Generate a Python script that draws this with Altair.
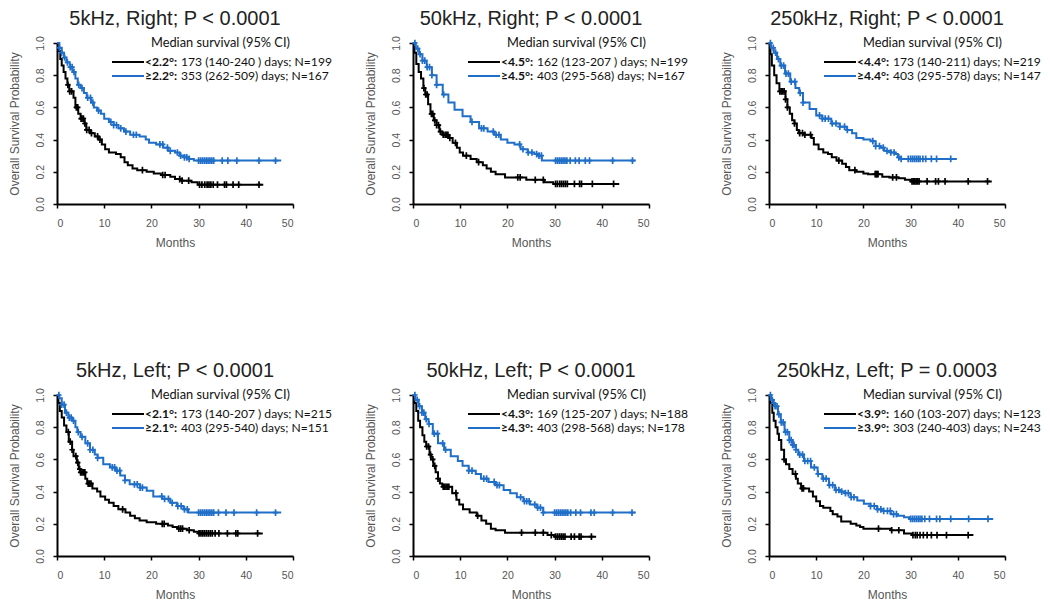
import altair as alt
import pandas as pd
import numpy as np

# ---------------- data ----------------
month_ticks = [0, 10, 20, 30, 40, 50]
prob_ticks = [0.0, 0.2, 0.4, 0.6, 0.8, 1.0]

titles = ["5kHz, Right; P < 0.0001", "50kHz, Right; P < 0.0001", "250kHz, Right; P < 0.0001",
          "5kHz, Left; P < 0.0001", "50kHz, Left; P < 0.0001", "250kHz, Left; P = 0.0003"]
lo_labels = ["<2.2°:", "<4.5°:", "<4.4°:", "<2.1°:", "<4.3°:", "<3.9°:"]
hi_labels = ["≥2.2°:", "≥4.5°:", "≥4.4°:", "≥2.1°:", "≥4.3°:", "≥3.9°:"]
lo_stats = ["173 (140-240 ) days; N=199", "162 (123-207 ) days; N=199", "173 (140-211) days; N=219",
            "173 (140-207 ) days; N=215", "169 (125-207 ) days; N=188", "160 (103-207) days; N=123"]
hi_stats = ["353 (262-509) days; N=167", "403 (295-568) days; N=167", "403 (295-578) days; N=147",
            "403 (295-540) days; N=151", "403 (298-568) days; N=178", "303 (240-403) days; N=243"]
legend_head = "Median survival  (95% CI)"

# Panel 1: 5kHz Right
p1_lo_t = [0, 0.3, 0.7, 1.0, 1.4, 1.8, 2.2, 2.6, 3.5, 3.9, 4.5, 5.0, 5.8, 6.2, 7.0, 8.0, 8.8, 9.5, 10.2, 11.0, 12.5, 13.5, 14.3, 15.0, 16.0, 17.0, 19.0, 20.5, 22.0, 24.0, 25.0, 26.5, 28.5, 29.8, 43.7]
p1_lo_s = [1.0, 0.95, 0.90, 0.86, 0.82, 0.78, 0.74, 0.70, 0.66, 0.60, 0.56, 0.53, 0.50, 0.46, 0.44, 0.42, 0.40, 0.37, 0.34, 0.32, 0.31, 0.29, 0.26, 0.24, 0.22, 0.21, 0.20, 0.19, 0.18, 0.17, 0.155, 0.145, 0.135, 0.12, 0.12]
p1_lo_c = [2.3, 2.7, 3.1, 4.1, 4.4, 5.1, 5.3, 5.6, 5.9, 6.3, 6.8, 7.3, 8.6, 9.1, 18.1, 22.4, 22.9, 26.0, 26.5, 27.9, 30.2, 30.7, 31.3, 31.8, 32.2, 32.6, 33.1, 34.0, 35.5, 35.9, 37.3, 38.5, 42.8]
p1_hi_t = [0, 0.5, 1.0, 1.5, 2.0, 2.7, 3.3, 3.9, 4.4, 5.0, 5.7, 6.3, 7.2, 7.8, 8.5, 9.3, 10.0, 11.0, 12.0, 13.0, 14.2, 15.5, 17.5, 18.8, 19.5, 21.0, 22.5, 23.5, 25.0, 26.0, 27.0, 28.0, 29.0, 47.5]
p1_hi_s = [1.0, 0.97, 0.94, 0.91, 0.88, 0.85, 0.82, 0.78, 0.74, 0.72, 0.69, 0.66, 0.63, 0.60, 0.58, 0.56, 0.53, 0.51, 0.49, 0.47, 0.45, 0.43, 0.42, 0.40, 0.38, 0.37, 0.35, 0.33, 0.32, 0.30, 0.29, 0.28, 0.27, 0.27]
p1_hi_c = [0.5, 1.0, 1.6, 2.2, 2.8, 3.2, 3.6, 4.6, 5.3, 6.5, 7.1, 7.6, 8.8, 11.4, 12.0, 12.6, 13.5, 14.6, 16.2, 16.8, 21.8, 22.4, 23.4, 24.0, 25.5, 26.2, 27.0, 27.5, 28.0, 30.0, 30.4, 30.8, 31.2, 31.6, 32.0, 32.4, 32.8, 33.2, 35.0, 36.2, 38.1, 42.8, 46.3]

# Panel 2: 50kHz Right
p2_lo_t = [0, 0.3, 0.7, 1.2, 1.7, 2.2, 2.6, 3.2, 3.7, 4.4, 5.0, 5.6, 6.2, 7.5, 8.4, 9.3, 9.9, 10.6, 12.2, 13.5, 14.8, 15.6, 16.5, 17.5, 19.5, 24.0, 27.8, 29.7, 43.7]
p2_lo_s = [1.0, 0.94, 0.87, 0.82, 0.78, 0.72, 0.68, 0.62, 0.56, 0.52, 0.49, 0.45, 0.43, 0.41, 0.38, 0.35, 0.32, 0.30, 0.28, 0.26, 0.24, 0.22, 0.20, 0.185, 0.165, 0.15, 0.135, 0.125, 0.125]
p2_lo_c = [2.3, 2.7, 3.0, 3.9, 4.2, 4.6, 5.0, 5.4, 5.8, 6.4, 6.8, 7.1, 7.4, 7.8, 9.0, 11.3, 13.9, 22.2, 22.7, 25.9, 27.6, 30.2, 30.6, 31.1, 31.5, 31.9, 32.3, 32.7, 34.2, 35.3, 35.7, 38.0, 42.5]
p2_hi_t = [0, 0.6, 1.3, 2.0, 2.9, 4.0, 5.0, 6.3, 7.5, 8.8, 10.5, 12.2, 14.0, 15.8, 17.2, 18.6, 20.0, 21.5, 22.8, 24.3, 25.7, 26.6, 27.3, 47.2]
p2_hi_s = [1.0, 0.965, 0.93, 0.89, 0.85, 0.80, 0.74, 0.68, 0.63, 0.585, 0.545, 0.51, 0.47, 0.45, 0.43, 0.40, 0.38, 0.37, 0.34, 0.32, 0.31, 0.30, 0.27, 0.27]
p2_hi_c = [0.4, 1.0, 1.5, 2.0, 2.5, 3.0, 3.5, 4.0, 5.0, 6.5, 12.5, 14.5, 15.0, 17.0, 17.6, 18.2, 22.6, 23.3, 24.4, 25.2, 26.2, 26.7, 27.2, 30.2, 30.6, 31.0, 31.4, 31.8, 32.2, 32.6, 33.3, 34.4, 35.2, 36.5, 37.4, 42.3, 46.5]

# Panel 3: 250kHz Right
p3_lo_t = [0, 0.3, 0.6, 1.1, 1.6, 2.2, 3.5, 3.9, 4.4, 4.9, 5.4, 5.9, 6.3, 7.5, 9.0, 9.5, 10.5, 11.5, 12.5, 13.3, 14.3, 15.5, 16.3, 17.0, 18.5, 20.0, 21.0, 24.0, 25.5, 27.5, 28.8, 30.0, 47.2]
p3_lo_s = [1.0, 0.93, 0.86, 0.80, 0.75, 0.70, 0.65, 0.60, 0.56, 0.52, 0.50, 0.46, 0.44, 0.43, 0.41, 0.37, 0.34, 0.32, 0.31, 0.29, 0.27, 0.25, 0.23, 0.21, 0.20, 0.19, 0.185, 0.17, 0.165, 0.16, 0.15, 0.14, 0.14]
p3_lo_c = [2.3, 2.6, 2.9, 3.2, 3.5, 3.9, 5.4, 6.5, 7.1, 7.6, 8.8, 14.8, 18.2, 22.5, 22.7, 22.9, 23.1, 26.2, 27.0, 30.3, 30.6, 30.9, 31.2, 31.5, 31.8, 33.5, 35.3, 35.9, 37.3, 42.2, 46.3]
p3_hi_t = [0, 0.4, 1.0, 1.7, 2.4, 3.4, 4.5, 5.6, 6.4, 7.2, 8.6, 10.0, 11.3, 13.2, 15.0, 16.5, 17.6, 18.5, 20.0, 21.5, 22.6, 23.6, 24.4, 25.8, 26.8, 27.3, 28.0, 39.8]
p3_hi_s = [1.0, 0.97, 0.94, 0.90, 0.86, 0.81, 0.76, 0.72, 0.69, 0.63, 0.59, 0.55, 0.53, 0.50, 0.48, 0.46, 0.44, 0.41, 0.40, 0.39, 0.36, 0.35, 0.33, 0.32, 0.31, 0.29, 0.28, 0.28]
p3_hi_c = [0.3, 0.9, 1.4, 2.0, 2.6, 3.1, 3.6, 4.1, 4.7, 5.5, 6.6, 7.2, 10.7, 11.3, 11.9, 12.6, 13.4, 14.2, 15.0, 16.0, 16.6, 22.0, 22.6, 23.4, 24.2, 25.0, 25.8, 26.5, 27.5, 28.0, 29.5, 30.0, 30.4, 30.8, 31.2, 31.6, 32.0, 32.6, 33.2, 34.4, 35.5, 38.5]

# Panel 4: 5kHz Left
p4_lo_t = [0, 0.3, 0.6, 1.0, 1.5, 2.0, 2.5, 3.2, 3.5, 4.2, 4.6, 5.0, 6.0, 6.4, 7.5, 8.5, 9.2, 10.2, 11.0, 12.0, 13.0, 14.5, 15.5, 16.5, 17.5, 19.0, 21.0, 23.5, 24.5, 25.5, 27.5, 29.0, 30.0, 43.6]
p4_lo_s = [1.0, 0.95, 0.90, 0.86, 0.81, 0.77, 0.71, 0.66, 0.62, 0.58, 0.54, 0.52, 0.48, 0.45, 0.42, 0.40, 0.37, 0.35, 0.33, 0.31, 0.29, 0.27, 0.25, 0.235, 0.22, 0.21, 0.20, 0.19, 0.18, 0.17, 0.16, 0.15, 0.14, 0.14]
p4_lo_c = [2.4, 2.8, 3.2, 4.0, 4.4, 4.8, 5.0, 5.3, 5.6, 5.9, 6.6, 6.9, 7.2, 13.9, 22.3, 22.7, 25.8, 26.2, 26.6, 28.0, 30.1, 30.5, 30.9, 31.3, 31.7, 32.1, 32.5, 32.9, 33.5, 34.3, 36.1, 37.9, 38.3, 42.5]
p4_hi_t = [0, 0.5, 1.0, 1.7, 2.4, 3.2, 3.9, 4.3, 5.0, 6.0, 7.0, 8.0, 8.6, 9.8, 11.2, 12.4, 13.4, 14.4, 15.4, 17.6, 19.0, 20.4, 22.3, 24.0, 25.4, 26.8, 27.8, 47.5]
p4_hi_s = [1.0, 0.98, 0.94, 0.89, 0.86, 0.84, 0.80, 0.77, 0.74, 0.70, 0.66, 0.63, 0.61, 0.57, 0.55, 0.53, 0.50, 0.47, 0.445, 0.425, 0.405, 0.37, 0.355, 0.33, 0.31, 0.29, 0.27, 0.27]
p4_hi_c = [0.4, 1.0, 1.5, 2.0, 2.6, 3.0, 3.5, 4.5, 5.3, 6.5, 7.0, 7.6, 8.6, 11.7, 12.2, 12.7, 13.3, 14.4, 16.4, 17.0, 17.6, 18.1, 22.2, 22.8, 23.6, 24.4, 25.6, 26.3, 27.0, 27.6, 30.0, 30.4, 30.8, 31.2, 31.6, 32.0, 32.4, 32.8, 33.2, 34.2, 35.8, 37.5, 42.3, 46.3]

# Panel 5: 50kHz Left
p5_lo_t = [0, 0.3, 0.7, 1.1, 1.5, 2.0, 2.4, 2.8, 3.5, 3.8, 4.3, 4.8, 5.3, 5.7, 6.2, 8.3, 9.2, 9.8, 10.6, 12.0, 13.5, 14.5, 15.5, 16.5, 17.5, 19.5, 28.5, 30.0, 38.8]
p5_lo_s = [1.0, 0.95, 0.90, 0.84, 0.80, 0.75, 0.71, 0.68, 0.63, 0.60, 0.56, 0.52, 0.48, 0.45, 0.43, 0.39, 0.35, 0.32, 0.29, 0.27, 0.25, 0.22, 0.20, 0.17, 0.16, 0.145, 0.13, 0.12, 0.12]
p5_lo_c = [2.9, 3.3, 3.7, 4.2, 4.6, 5.3, 6.4, 6.7, 7.0, 7.3, 7.6, 9.1, 13.7, 23.0, 25.9, 27.6, 29.3, 30.2, 30.6, 31.0, 31.4, 31.8, 32.2, 33.5, 34.2, 35.2, 35.6, 37.8]
p5_hi_t = [0, 0.5, 1.2, 1.9, 2.6, 3.3, 4.2, 5.3, 6.6, 8.0, 9.5, 10.5, 11.8, 13.3, 14.4, 16.0, 17.4, 19.2, 20.6, 22.0, 23.4, 24.8, 26.3, 27.6, 47.2]
p5_hi_s = [1.0, 0.97, 0.93, 0.89, 0.85, 0.82, 0.76, 0.70, 0.66, 0.62, 0.59, 0.56, 0.53, 0.51, 0.48, 0.46, 0.44, 0.41, 0.39, 0.365, 0.34, 0.32, 0.30, 0.27, 0.27]
p5_hi_c = [0.4, 0.9, 1.4, 1.9, 2.3, 2.8, 3.4, 4.5, 5.2, 6.3, 6.9, 11.8, 12.5, 15.0, 15.6, 17.2, 17.8, 18.3, 22.8, 23.6, 24.1, 24.6, 25.8, 26.4, 27.0, 27.6, 30.0, 30.4, 30.8, 31.2, 31.6, 32.0, 32.4, 32.8, 33.4, 34.5, 35.5, 37.7, 38.4, 42.3, 46.4]

# Panel 6: 250kHz Left
p6_lo_t = [0, 0.3, 0.7, 1.0, 1.4, 1.8, 2.1, 2.6, 3.2, 3.6, 4.3, 5.0, 5.7, 6.1, 6.8, 8.5, 9.3, 10.0, 10.8, 11.5, 13.0, 13.5, 14.5, 15.3, 17.3, 18.5, 19.3, 20.0, 25.8, 28.6, 30.3, 43.3]
p6_lo_s = [1.0, 0.95, 0.89, 0.84, 0.80, 0.76, 0.72, 0.66, 0.60, 0.57, 0.54, 0.51, 0.48, 0.45, 0.42, 0.40, 0.37, 0.34, 0.31, 0.30, 0.28, 0.26, 0.245, 0.215, 0.20, 0.19, 0.18, 0.17, 0.16, 0.14, 0.13, 0.13]
p6_lo_c = [3.2, 5.6, 7.0, 7.3, 23.2, 26.0, 27.5, 30.5, 31.0, 31.4, 32.0, 32.7, 33.5, 34.4, 35.6, 37.6, 42.2]
p6_hi_t = [0, 0.4, 0.9, 1.3, 1.9, 2.5, 3.3, 4.3, 5.0, 5.7, 6.2, 7.4, 8.9, 10.3, 11.3, 12.7, 14.0, 15.0, 16.0, 17.3, 18.7, 20.1, 21.5, 22.9, 24.2, 25.8, 27.2, 28.6, 29.7, 47.5]
p6_hi_s = [1.0, 0.97, 0.95, 0.93, 0.88, 0.83, 0.77, 0.72, 0.69, 0.66, 0.63, 0.59, 0.55, 0.51, 0.48, 0.44, 0.41, 0.40, 0.39, 0.365, 0.345, 0.325, 0.31, 0.29, 0.28, 0.26, 0.25, 0.24, 0.23, 0.23]
p6_hi_c = [0.3, 0.7, 1.0, 1.3, 1.7, 2.1, 2.6, 3.0, 3.5, 3.9, 4.3, 4.7, 5.0, 5.3, 5.7, 6.5, 7.1, 7.6, 8.2, 8.8, 9.6, 10.4, 11.5, 12.1, 12.8, 13.5, 14.2, 14.8, 15.4, 16.2, 16.8, 17.4, 18.0, 21.5, 22.3, 23.0, 23.7, 24.3, 25.1, 25.7, 26.4, 27.0, 30.0, 30.4, 30.8, 31.2, 31.6, 32.0, 32.4, 33.0, 34.0, 35.5, 36.2, 38.5, 42.3, 46.4]

curves = [
    (p1_lo_t, p1_lo_s, p1_lo_c, p1_hi_t, p1_hi_s, p1_hi_c),
    (p2_lo_t, p2_lo_s, p2_lo_c, p2_hi_t, p2_hi_s, p2_hi_c),
    (p3_lo_t, p3_lo_s, p3_lo_c, p3_hi_t, p3_hi_s, p3_hi_c),
    (p4_lo_t, p4_lo_s, p4_lo_c, p4_hi_t, p4_hi_s, p4_hi_c),
    (p5_lo_t, p5_lo_s, p5_lo_c, p5_hi_t, p5_hi_s, p5_hi_c),
    (p6_lo_t, p6_lo_s, p6_lo_c, p6_hi_t, p6_hi_s, p6_hi_c),
]

# ---------------- style ----------------
BLACK = "#000000"
BLUE = "#1f6ec8"
AXIS_FONT = "Liberation Sans"
LEG_FONT = "Lato"
HEAD_SIZE = 12.8
LEG_SIZE = 12.1
W, H = 236, 161
CROSS = "M-0.8,0H0.8M0,-1V1"

color_scale = alt.Scale(domain=["lo", "hi"], range=[BLACK, BLUE])
x_scale = alt.Scale(domain=[0, 50], nice=False)
y_scale = alt.Scale(domain=[0, 1], nice=False)


def step_value(t, s, c):
    idx = np.searchsorted(np.array(t), np.array(c), side="right") - 1
    return np.array(s)[idx]


def panel(i):
    lo_t, lo_s, lo_c, hi_t, hi_s, hi_c = curves[i]
    cdf = pd.concat([
        pd.DataFrame({"t": lo_t, "s": lo_s, "g": "lo", "o": range(len(lo_t))}),
        pd.DataFrame({"t": hi_t, "s": hi_s, "g": "hi", "o": range(len(hi_t))}),
    ])
    kdf = pd.concat([
        pd.DataFrame({"t": lo_c, "s": step_value(lo_t, lo_s, lo_c), "g": "lo"}),
        pd.DataFrame({"t": hi_c, "s": step_value(hi_t, hi_s, hi_c), "g": "hi"}),
    ])
    x = alt.X("t:Q", scale=x_scale,
              axis=alt.Axis(values=month_ticks, title="Months", format="d"))
    y = alt.Y("s:Q", scale=y_scale,
              axis=alt.Axis(values=prob_ticks, title="Overall Survival Probability", format=".1f"))
    col = alt.Color("g:N", scale=color_scale, legend=None)

    line = alt.Chart(cdf).mark_line(interpolate="step-after", strokeWidth=2).encode(
        x=x, y=y, color=col, detail="g:N", order="o:Q")
    cens = alt.Chart(kdf).mark_point(shape=CROSS, filled=False, size=45, strokeWidth=1.7,
                                      opacity=1).encode(x=x, y=y, color=col)

    leg = pd.DataFrame({"head": [legend_head], "lo_b": [lo_labels[i]], "lo_r": [lo_stats[i]],
                        "hi_b": [hi_labels[i]], "hi_r": [hi_stats[i]]})
    base = alt.Chart(leg)
    lx0, lx1, tx, rdx = 55, 87, 88, 36
    r1, r2 = 19, 33
    rule_lo = base.mark_rule(strokeWidth=2, color=BLACK).encode(
        x=alt.value(lx0), x2=alt.value(lx1), y=alt.value(r1))
    rule_hi = base.mark_rule(strokeWidth=2, color=BLUE).encode(
        x=alt.value(lx0), x2=alt.value(lx1), y=alt.value(r2))
    tkw = dict(font=LEG_FONT, fontSize=LEG_SIZE, align="left", baseline="middle", color="#111111")
    head = base.mark_text(font=LEG_FONT, fontSize=HEAD_SIZE, align="left", baseline="middle",
                          color="#111111").encode(x=alt.value(94), y=alt.value(0), text="head:N")
    lo_b = base.mark_text(fontWeight="bold", **tkw).encode(x=alt.value(tx), y=alt.value(r1), text="lo_b:N")
    lo_r = base.mark_text(**tkw).encode(x=alt.value(tx + rdx), y=alt.value(r1), text="lo_r:N")
    hi_b = base.mark_text(fontWeight="bold", **tkw).encode(x=alt.value(tx), y=alt.value(r2), text="hi_b:N")
    hi_r = base.mark_text(**tkw).encode(x=alt.value(tx + rdx), y=alt.value(r2), text="hi_r:N")

    return alt.layer(line, cens, rule_lo, rule_hi, head, lo_b, lo_r, hi_b, hi_r).properties(
        width=W, height=H,
        title=alt.TitleParams(titles[i], fontSize=20, font=AXIS_FONT, fontWeight="normal",
                              color="#222222", anchor="middle", offset=7))


chart = alt.concat(*[panel(i) for i in range(6)], columns=3,
                   spacing={"row": 191, "column": 120}, bounds="flush").properties(
    padding={"left": 0, "top": 0, "right": 0, "bottom": 0}
).configure_view(stroke=None).configure_axis(
    grid=False, domainColor="#000000", domainWidth=2, tickColor="#000000", tickWidth=1.5,
    tickSize=4, labelFont=AXIS_FONT, labelFontSize=10.5, labelColor="#555555",
    titleFont=AXIS_FONT, titleFontSize=12, titleFontWeight="normal", titleColor="#555555"
).configure_axisX(labelPadding=10, titlePadding=9).configure_axisY(
    labelAngle=270, labelAlign="center", labelBaseline="bottom", labelPadding=8, titlePadding=14)

chart.save("out.html", embed_options={"renderer": "svg", "actions": False})
